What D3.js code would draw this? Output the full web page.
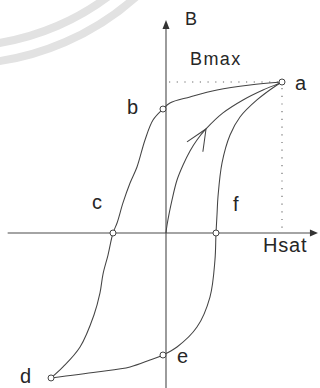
<!DOCTYPE html>
<html>
<head>
<meta charset="utf-8">
<script src="https://cdn.jsdelivr.net/npm/d3@7"></script>
<style>
  html, body { margin: 0; padding: 0; background: #fff; }
  svg { display: block; }
  text { font-family: "Liberation Sans", Arial, Helvetica, sans-serif; fill: #262626; }
</style>
</head>
<body>
<svg id="chart" width="320" height="388"></svg>
<script>
// Hysteresis loop: field strength H (Hsat = 1) against flux density B (Bmax = 1)

// Named points on the loop
const pointNames = ["a", "b", "c", "d", "e", "f"];
const pointH = [1.000, -0.026, -0.457, -0.991, -0.026, 0.431];
const pointB = [1.000, 0.821, 0.000, -0.960, -0.808, 0.000];

// Descending branch a -> b -> c -> d
const descendingH = [1.000, 0.724, 0.440, 0.207, 0.034, -0.026, -0.112, -0.181, -0.250, -0.310,
                     -0.371, -0.422, -0.457, -0.500, -0.543, -0.569, -0.621, -0.741, -0.888, -0.991];
const descendingB = [1.000, 0.980, 0.947, 0.901, 0.861, 0.821, 0.748, 0.616, 0.437, 0.331,
                     0.199, 0.066, 0.000, -0.146, -0.272, -0.397, -0.543, -0.755, -0.887, -0.960];

// Ascending branch d -> e -> f -> a
const ascendingH = [-0.991, -0.595, -0.310, -0.138, -0.026, 0.095, 0.267, 0.379, 0.422, 0.431,
                    0.440, 0.448, 0.483, 0.552, 0.638, 0.784, 0.957, 1.000];
const ascendingB = [-0.960, -0.921, -0.887, -0.841, -0.808, -0.755, -0.623, -0.424, -0.179, 0.000,
                    0.126, 0.238, 0.464, 0.649, 0.768, 0.881, 0.980, 1.000];

// Initial magnetisation curve 0 -> a
const initialH = [0, 0.009, 0.052, 0.095, 0.147, 0.207, 0.267, 0.345, 0.491, 0.664, 0.836, 0.983, 1.000];
const initialB = [0, 0.053, 0.219, 0.351, 0.450, 0.543, 0.616, 0.689, 0.795, 0.881, 0.947, 0.993, 1.000];
const arrowIndex = 7;

// Axis extents and titles
const hExtent = [-1.365, 1.31];
const bExtent = [-1.03, 1.41];
const hsat = 1, bmax = 1;
const axisTitleH = "Hsat";
const axisTitleB = "B";
const levelTitle = "Bmax";

const svg = d3.select("#chart");
const x = d3.scaleLinear().domain([0, 1]).range([166, 282]);
const y = d3.scaleLinear().domain([0, 1]).range([233, 82]);

// faint ring in the corner
const ring = svg.append("g").attr("fill", "none").attr("stroke", "#e2e2e2").attr("stroke-width", 8);
[246, 264].forEach(r => {
  const p = d3.path();
  p.arc(-40, -200, r, Math.PI * 0.52, Math.PI * 0.22, true);
  ring.append("path").attr("d", p.toString());
});
ring.append("path").attr("d", (() => { const p = d3.path(); p.arc(-40, -200, 218, Math.PI * 0.34, Math.PI * 0.30, true); return p.toString(); })());

// dotted guides at Bmax and Hsat
const guides = svg.append("g").attr("stroke", "#666").attr("stroke-width", 1.1)
  .attr("stroke-dasharray", "1.2,6.5").attr("fill", "none");
guides.append("line").attr("x1", x(0) + 3).attr("x2", x(hsat) - 4).attr("y1", y(bmax)).attr("y2", y(bmax));
guides.append("line").attr("x1", x(hsat)).attr("x2", x(hsat)).attr("y1", y(bmax) + 6).attr("y2", y(0) - 1);

// axes
const axisColor = "#4a4a4a";
svg.append("line").attr("x1", x(hExtent[0])).attr("x2", x(hExtent[1]) - 4)
  .attr("y1", y(0)).attr("y2", y(0)).attr("stroke", axisColor).attr("stroke-width", 1.1);
svg.append("line").attr("x1", x(0)).attr("x2", x(0))
  .attr("y1", y(bExtent[0])).attr("y2", y(bExtent[1]) + 4).attr("stroke", axisColor).attr("stroke-width", 1.1);
const hx = x(hExtent[1]), hy = y(0);
svg.append("path").attr("d", `M${hx},${hy} L${hx - 8},${hy - 3.5} L${hx - 8},${hy + 3.5} Z`).attr("fill", "#333");
const vx = x(0), vy = y(bExtent[1]);
svg.append("path").attr("d", `M${vx},${vy} L${vx - 3.5},${vy + 9} L${vx + 3.5},${vy + 9} Z`).attr("fill", "#333");

// loop curves
const line = d3.line().x(d => x(d[0])).y(d => y(d[1])).curve(d3.curveCatmullRom.alpha(0.5));
const curves = svg.append("g").attr("fill", "none").attr("stroke", "#444").attr("stroke-width", 1.05);
curves.append("path").attr("d", line(d3.zip(descendingH, descendingB)));
curves.append("path").attr("d", line(d3.zip(ascendingH, ascendingB)));
curves.append("path").attr("d", line(d3.zip(initialH, initialB)));

// open arrowhead on the initial curve
{
  const tx = x(initialH[arrowIndex]), ty = y(initialB[arrowIndex]);
  const dx = x(initialH[arrowIndex - 1]) - x(initialH[arrowIndex + 1]);
  const dy = y(initialB[arrowIndex - 1]) - y(initialB[arrowIndex + 1]);
  const back = Math.atan2(dy, dx);
  const len = 23;
  const a1 = back + 12 * Math.PI / 180, a2 = back - 36 * Math.PI / 180;
  curves.append("path").attr("d",
    `M${tx + len * Math.cos(a1)},${ty + len * Math.sin(a1)} L${tx},${ty} L${tx + len * Math.cos(a2)},${ty + len * Math.sin(a2)}`);
}

// point markers
svg.append("g").selectAll("circle").data(d3.range(pointNames.length)).join("circle")
  .attr("cx", i => x(pointH[i])).attr("cy", i => y(pointB[i])).attr("r", 3)
  .attr("fill", "#fff").attr("stroke", "#444").attr("stroke-width", 1);

// point labels, offset from each marker
const labelOffsets = { a: [13, 8], b: [-36, 5], c: [-21, -24], d: [-31, 5], e: [14, 8], f: [17, -22] };
svg.append("g").selectAll("text").data(d3.range(pointNames.length)).join("text")
  .attr("x", i => x(pointH[i]) + labelOffsets[pointNames[i]][0])
  .attr("y", i => y(pointB[i]) + labelOffsets[pointNames[i]][1])
  .attr("font-size", 20)
  .text(i => pointNames[i]);

// axis titles
svg.append("text").attr("x", x(0) + 19).attr("y", y(bExtent[1]) + 5).attr("font-size", 18).text(axisTitleB);
svg.append("text").attr("x", x(0) + 24).attr("y", y(bmax) - 17).attr("font-size", 18)
  .attr("letter-spacing", 1.4).text(levelTitle);
svg.append("text").attr("x", x(hsat) - 19).attr("y", y(0) + 19).attr("font-size", 20)
  .attr("letter-spacing", 0.8).text(axisTitleH);
</script>
</body>
</html>
